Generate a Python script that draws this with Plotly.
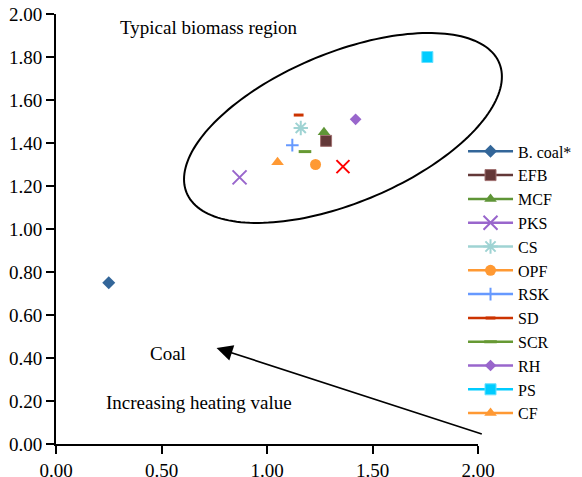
import numpy as np
import plotly.graph_objects as go

# ---- data (O/C on x, H/C on y) ----
names = ["B. coal*", "EFB", "MCF", "PKS", "CS", "OPF", "RSK", "SD", "SCR", "RH", "PS", "CF"]
x_vals = [0.25, 1.28, 1.27, 0.87, 1.16, 1.23, 1.12, 1.15, 1.18, 1.42, 1.76, 1.05]
y_vals = [0.75, 1.41, 1.45, 1.24, 1.47, 1.30, 1.39, 1.53, 1.36, 1.51, 1.80, 1.31]
extra_x = [1.36]   # unlabeled red cross
extra_y = [1.29]

x_range = [0, 2]
y_range = [0, 2]

# ---- styles ----
colors = ["#336699", "#633838", "#5F9537", "#9966CC", "#9FD3D3", "#FF9933",
          "#6699FF", "#CC3300", "#669933", "#9966CC", "#00CCFF", "#FF9933"]
symbols = ["diamond", "square", "triangle-up", "x-thin-open", "asterisk-open", "circle",
           "cross-thin-open", "line-ew-open", "line-ew-open", "diamond", "square", "triangle-up"]
sizes = [10, 11, 11, 14, 12, 11, 9, 7, 9, 9, 11, 11]
outline = ["#336699", "#A07070", "#5F9537", "#9966CC", "#9FD3D3", "#FF9933",
           "#6699FF", "#CC3300", "#669933", "#9966CC", "#66E0FF", "#FF9933"]
outline_w = [0, 1, 0, 2, 2, 0, 2, 3, 3, 0, 1, 0]

# ellipse ("Typical biomass region") parameters in data units
ell_center = (1.36, 1.47)
ell_axes = (0.80, 0.35)
ell_tilt_deg = 22

FONT = "Liberation Serif"

fig = go.Figure()
for i, n in enumerate(names):
    fig.add_trace(go.Scatter(
        x=[x_vals[i]], y=[y_vals[i]], name=n, mode="lines+markers",
        legendgroup=n,
        line=dict(color=colors[i], width=2.5),
        marker=dict(symbol=symbols[i], size=sizes[i], color=colors[i],
                    line=dict(color=outline[i], width=outline_w[i])),
    ))
fig.add_trace(go.Scatter(
    x=extra_x, y=extra_y, mode="markers", showlegend=False,
    marker=dict(symbol="x-thin-open", size=13, color="#FF0000",
                line=dict(color="#FF0000", width=2)),
))

# ellipse drawn in paper coordinates (converted from data) so it is not clipped
t = np.linspace(0, 2 * np.pi, 181)
th = np.deg2rad(ell_tilt_deg)
ex = ell_center[0] + ell_axes[0] * np.cos(t) * np.cos(th) - ell_axes[1] * np.sin(t) * np.sin(th)
ey = ell_center[1] + ell_axes[0] * np.cos(t) * np.sin(th) + ell_axes[1] * np.sin(t) * np.cos(th)
px = (ex - x_range[0]) / (x_range[1] - x_range[0])
py = (ey - y_range[0]) / (y_range[1] - y_range[0])
path = "M " + " L ".join(f"{a:.5f},{b:.5f}" for a, b in zip(px, py)) + " Z"
fig.add_shape(type="path", path=path, xref="paper", yref="paper",
              line=dict(color="black", width=2), fillcolor="rgba(0,0,0,0)")

ann_font = dict(family=FONT, size=19, color="black")
fig.add_annotation(x=0.725, y=1.937, text="Typical biomass region", showarrow=False, font=ann_font)
fig.add_annotation(x=0.531, y=0.421, text="Coal", showarrow=False, font=ann_font)
fig.add_annotation(x=0.676, y=0.195, text="Increasing heating value", showarrow=False, font=ann_font)
fig.add_annotation(x=0.761, y=0.447, ax=2.025, ay=0.044, axref="x", ayref="y",
                   xref="x", yref="y", text="", showarrow=True,
                   arrowhead=2, arrowsize=2, arrowwidth=1.6, arrowcolor="black")

axis_common = dict(showgrid=False, zeroline=False, showline=True, linewidth=2,
                   linecolor="black", ticks="outside", ticklen=8, tickwidth=1.5,
                   tickcolor="black", tickformat=".2f", automargin=False,
                   ticklabeloverflow="allow",
                   tickfont=dict(family=FONT, size=19, color="black"))
fig.update_xaxes(range=x_range, dtick=0.5, tick0=0, **axis_common)
fig.update_yaxes(range=y_range, dtick=0.2, tick0=0, **axis_common)

# page body adds an 8px offset, so the figure is sized to end at the window edge
fig.update_layout(
    width=574, height=469,
    margin=dict(l=48, r=104, t=6, b=33, autoexpand=False),
    plot_bgcolor="white", paper_bgcolor="white",
    font=dict(family=FONT, color="black"),
    legend=dict(x=0.9645, xanchor="left", y=0.72, yanchor="top",
                font=dict(family=FONT, size=16, color="black"),
                itemwidth=45, tracegroupgap=0, bgcolor="rgba(0,0,0,0)"),
)

fig.write_html("out.html")
